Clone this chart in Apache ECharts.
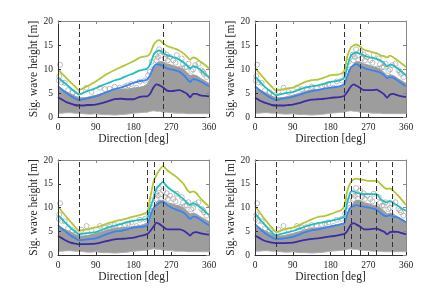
<!DOCTYPE html>
<html>
<head>
<meta charset="utf-8">
<script src="https://cdn.jsdelivr.net/npm/echarts@6/dist/echarts.min.js"></script>
<style>html,body{margin:0;padding:0;background:#fff}#c{width:448px;height:292px}</style>
</head>
<body>
<div id="c"></div>
<script>
// Direction samples (deg)
var dirs = [0,10,20,30,40,50,60,70,80,90,105,120,135,150,165,180,195,205,213,220,228,235,242,250,260,270,280,290,300,308,315,322,330,340,350,360];

// Dense data cloud envelope (shared by all panels)
var cloudUpper = [6.0,5.6,5.2,4.8,4.3,4.0,4.0,4.1,4.3,4.5,4.9,5.3,5.6,5.7,5.8,6.0,6.2,6.4,6.8,8.0,10.0,11.0,11.5,11.5,11.0,10.8,10.5,10.3,9.8,9.2,8.6,8.8,8.6,8.0,7.5,7.0];
var cloudLower = [0.8,0.8,0.9,0.9,0.8,0.8,0.7,0.6,0.6,0.7,0.5,0.5,0.4,0.5,0.6,0.8,0.9,1.0,1.0,1.2,1.3,1.2,1.2,1.0,1.0,0.9,0.8,0.8,0.8,0.7,0.7,0.7,0.7,0.7,0.7,0.7];

// Scattered observations above the dense cloud [direction, Hs]
var outliers = [[2,7.6],[5,10.9],[3,8.5],[8,7.2],[16,7.1],[24,5.6],[35,5.2],[45,4.6],[56,5.3],[68,6.1],[80,5.2],[100,6.1],[112,5.8],[123,5.9],[135,6.3],[147,6.1],[160,6.4],[167,6.6],[175,6.9],[187,6.1],[195,7.4],[207,7.6],[215,8.7],[219,9.4],[223,11.5],[227,10.0],[233,13.0],[235,11.8],[241,14.1],[245,12.8],[251,13.5],[259,13.0],[267,12.5],[275,11.8],[283,12.9],[291,10.1],[295,12.2],[303,10.4],[307,10.4],[311,11.1],[322,9.9],[327,10.8],[335,11.1],[342,9.7],[346,9.4],[348,9.0],[354,8.3],[262,11.8],[280,11.3],[298,11.0],[318,9.6],[255,12.2],[238,12.5]];

// Panel 1
var p1Purple = [4.1,3.6,3.1,2.8,2.5,2.4,2.4,2.5,2.5,2.6,2.9,3.3,3.7,3.8,3.7,3.7,4.2,4.3,4.3,4.9,6.2,6.8,6.6,6.2,5.5,5.4,5.5,5.6,5.2,4.8,4.1,4.8,4.8,4.5,4.4,4.3];
var p1Blue   = [6.4,5.7,5.0,4.4,3.9,3.5,3.7,3.9,4.1,4.3,4.8,5.3,5.8,6.1,6.6,7.1,7.5,7.6,7.8,8.8,10.4,11.0,10.9,10.6,10.1,9.9,9.7,9.4,8.7,7.9,7.3,7.9,7.8,7.4,6.9,6.4];
var p1Cyan   = [8.2,7.5,6.8,6.0,5.3,4.7,5.0,5.4,5.7,6.0,6.6,7.1,7.6,8.0,8.6,9.1,9.7,9.9,10.1,11.0,13.0,13.7,13.9,13.4,12.9,12.6,12.3,11.9,11.3,10.7,10.1,10.6,10.4,9.8,9.0,8.2];
var p1Yellow = [9.9,9.0,8.1,7.2,6.4,5.6,6.0,6.4,6.9,7.4,8.3,9.1,9.8,10.4,11.0,11.6,12.4,12.6,12.7,13.3,15.0,15.8,16.0,15.4,14.8,14.5,14.2,13.8,13.2,12.5,11.9,12.4,12.2,11.5,10.9,10.1];
var p1Bounds = [50,250];

// Panel 2
var p2Purple = [4.0,3.5,3.1,2.8,2.5,2.4,2.4,2.4,2.5,2.6,2.9,3.3,3.6,3.7,3.8,4.0,4.1,4.2,4.4,5.2,6.3,6.8,6.5,6.1,5.6,5.6,5.6,5.7,5.2,4.7,4.0,4.7,4.8,4.5,4.3,4.2];
var p2Blue   = [6.4,5.7,5.0,4.4,3.9,3.5,3.7,3.9,4.0,4.2,4.6,5.0,5.4,5.6,5.9,6.1,6.3,6.5,6.9,8.5,10.2,10.8,11.0,10.6,10.2,9.9,9.7,9.5,9.2,8.7,8.1,8.3,8.2,7.6,7.0,6.4];
var p2Cyan   = [8.4,7.5,6.6,5.8,5.1,4.5,4.7,4.9,5.1,5.2,5.7,6.1,6.4,6.6,6.9,7.3,7.5,7.7,8.2,10.5,12.7,13.3,13.4,13.2,12.8,12.5,12.3,12.1,11.7,11.2,10.5,10.9,10.7,10.1,9.4,8.7];
var p2Yellow = [10.2,9.2,8.2,7.2,6.3,5.5,5.7,5.8,6.0,6.1,6.7,7.3,7.7,7.8,8.2,8.7,8.8,9.0,9.7,12.6,14.4,14.9,15.1,14.7,14.0,13.7,13.5,13.3,12.8,12.7,12.4,12.8,12.4,11.8,11.1,10.4];
var p2Bounds = [50,213,250];

// Panel 3
var p3Purple = [4.0,3.5,3.0,2.6,2.4,2.25,2.3,2.3,2.35,2.4,2.7,3.0,3.3,3.4,3.5,3.65,4.0,4.2,4.4,5.05,6.0,6.8,6.5,6.0,5.4,5.4,5.4,5.4,5.1,4.6,4.1,4.7,4.8,4.55,4.4,4.3];
var p3Blue   = [6.3,5.5,4.8,4.1,3.6,3.1,3.2,3.3,3.4,3.5,4.0,4.5,4.9,5.1,5.4,5.75,5.9,6.0,6.2,8.3,9.9,10.5,11.0,11.2,10.5,10.0,9.6,9.3,8.9,8.2,7.6,8.1,8.0,7.4,6.8,6.2];
var p3Cyan   = [8.4,7.5,6.6,5.7,5.0,4.35,4.5,4.6,4.7,4.8,5.3,5.8,6.2,6.5,6.9,7.2,7.4,7.5,7.7,10.0,12.0,14.0,14.7,15.4,14.4,13.7,13.1,12.4,11.7,11.0,10.5,10.9,10.6,10.0,9.2,8.4];
var p3Yellow = [10.2,9.1,8.0,7.0,6.0,5.1,5.3,5.4,5.6,5.8,6.2,6.7,7.1,7.4,7.7,8.1,8.4,8.7,9.1,12.1,15.5,16.9,17.9,18.7,17.9,17.2,16.6,15.8,14.9,13.7,13.2,13.4,13.0,11.9,11.0,10.2];
var p3Bounds = [50,213,230,250];

// Panel 4
var p4Purple = [4.1,3.6,3.1,2.8,2.6,2.5,2.5,2.5,2.55,2.6,2.9,3.2,3.4,3.5,3.7,3.9,4.1,4.3,4.4,5.05,6.3,6.7,6.4,6.0,5.4,5.4,5.5,5.55,5.2,4.9,4.35,4.8,4.9,4.85,4.6,4.35];
var p4Blue   = [6.5,5.7,4.9,4.2,3.7,3.3,3.4,3.5,3.65,3.8,4.3,4.8,5.2,5.4,5.7,6.0,6.3,6.5,6.7,8.6,10.0,10.3,10.5,10.3,10.2,10.0,9.8,9.5,8.8,8.3,8.2,8.4,8.1,7.9,7.4,6.9];
var p4Cyan   = [8.7,7.7,6.7,5.7,4.8,4.1,4.4,4.6,4.8,5.05,5.5,6.0,6.4,6.7,6.9,7.2,7.5,7.7,8.1,11.0,13.3,13.4,13.1,12.9,12.8,12.8,12.8,12.8,11.7,11.3,11.1,11.4,10.9,10.4,9.8,9.3];
var p4Yellow = [10.3,9.1,7.9,6.8,5.8,4.8,5.1,5.4,5.6,5.75,6.3,6.9,7.5,8.0,8.2,8.6,9.1,9.4,10.3,13.5,15.3,15.9,16.1,15.9,15.8,15.6,15.6,15.6,14.9,14.2,13.9,14.0,13.5,12.6,11.6,10.5];
var p4Bounds = [50,213,230,250,290,327];

var xTicks = [0,90,180,270,360];
var yTicks = [0,5,10,15,20];

var panels = [
  {left:58, top:21, h:96, lines:[p1Purple,p1Blue,p1Cyan,p1Yellow], bounds:p1Bounds, gap:17},
  {left:255, top:21, h:96, lines:[p2Purple,p2Blue,p2Cyan,p2Yellow], bounds:p2Bounds, gap:16},
  {left:58, top:160, h:95, lines:[p3Purple,p3Blue,p3Cyan,p3Yellow], bounds:p3Bounds, gap:17},
  {left:255, top:160, h:95, lines:[p4Purple,p4Blue,p4Cyan,p4Yellow], bounds:p4Bounds, gap:16}
];
var lineColors = ['#3b2ca3','#3a83f2','#23bdbf','#b5c534'];
var FONT = 'Liberation Serif';

var grids=[], xAxes=[], yAxes=[], series=[];
function pairs(ys){ return dirs.map(function(d,i){return [d, ys[i]];}); }

panels.forEach(function(p, g){
  grids.push({left:p.left, top:p.top, width:151, height:p.h});
  var base = {min:0, max:360, interval:90, gridIndex:g, type:'value', z:10};
  xAxes.push(Object.assign({}, base, {position:'bottom',
    name:'Direction [deg]', nameLocation:'middle', nameGap:14,
    nameTextStyle:{fontFamily:FONT, fontSize:11.5, color:'#262626'},
    axisLine:{show:true, onZero:false, lineStyle:{color:'#333', width:1}},
    axisTick:{show:true, inside:true, length:3, lineStyle:{color:'#333'}},
    axisLabel:{fontFamily:FONT, fontSize:9.5, color:'#262626', margin:5, formatter:function(v){return xTicks.indexOf(v)>=0?String(v):'';}},
    splitLine:{show:false}}));
  xAxes.push(Object.assign({}, base, {position:'top',
    axisLine:{show:true, onZero:false, lineStyle:{color:'#888', width:1}},
    axisTick:{show:true, inside:true, length:3, lineStyle:{color:'#888'}},
    axisLabel:{show:false}, splitLine:{show:false}}));
  var ybase = {min:0, max:20, interval:5, gridIndex:g, type:'value', z:10};
  yAxes.push(Object.assign({}, ybase, {position:'left',
    name:'Sig. wave height [m]', nameLocation:'middle', nameGap:p.gap,
    nameTextStyle:{fontFamily:FONT, fontSize:11.5, color:'#262626'},
    axisLine:{show:true, onZero:false, lineStyle:{color:'#333', width:1}},
    axisTick:{show:true, inside:true, length:3, lineStyle:{color:'#333'}},
    axisLabel:{fontFamily:FONT, fontSize:9.5, color:'#262626', margin:5, formatter:function(v){return yTicks.indexOf(v)>=0?String(v):'';}},
    splitLine:{show:false}}));
  yAxes.push(Object.assign({}, ybase, {position:'right',
    axisLine:{show:true, onZero:false, lineStyle:{color:'#888', width:1}},
    axisTick:{show:true, inside:true, length:3, lineStyle:{color:'#888'}},
    axisLabel:{show:false}, splitLine:{show:false}}));
  var xi = 2*g, yi = 2*g;
  // dense cloud: gray area down to the axis, then white band below the cloud's lower edge
  series.push({type:'line', xAxisIndex:xi, yAxisIndex:yi, data:pairs(cloudUpper),
    symbol:'none', lineStyle:{width:1.2, color:'#a0a0a0'}, areaStyle:{color:'#9d9d9d', opacity:1, origin:'start'}, silent:true, z:1});
  series.push({type:'line', xAxisIndex:xi, yAxisIndex:yi, data:pairs(cloudLower),
    symbol:'none', lineStyle:{width:1, color:'#b0b0b0'}, areaStyle:{color:'#ffffff', opacity:1, origin:'start'}, silent:true, z:1});
  series.push({type:'scatter', xAxisIndex:xi, yAxisIndex:yi, data:outliers, symbol:'circle', symbolSize:5,
    itemStyle:{color:'rgba(0,0,0,0)', borderColor:'#9a9a9a', borderWidth:0.8}, silent:true, z:2});
  p.lines.forEach(function(ys, k){
    var s = {type:'line', xAxisIndex:xi, yAxisIndex:yi, data:pairs(ys), symbol:'none', smooth:0.2,
      lineStyle:{color:lineColors[k], width:1.8}, silent:true, z:3};
    if(k===3){
      s.markLine = {symbol:['none','none'], silent:true, label:{show:false},
        lineStyle:{type:[5,3], color:'#333', width:1},
        data:p.bounds.map(function(b){return {xAxis:b};})};
    }
    series.push(s);
  });
});

var chart = echarts.init(document.getElementById('c'), null, {renderer:'canvas'});
chart.setOption({animation:false, backgroundColor:'#fff', grid:grids, xAxis:xAxes, yAxis:yAxes, series:series});
</script>
</body>
</html>
